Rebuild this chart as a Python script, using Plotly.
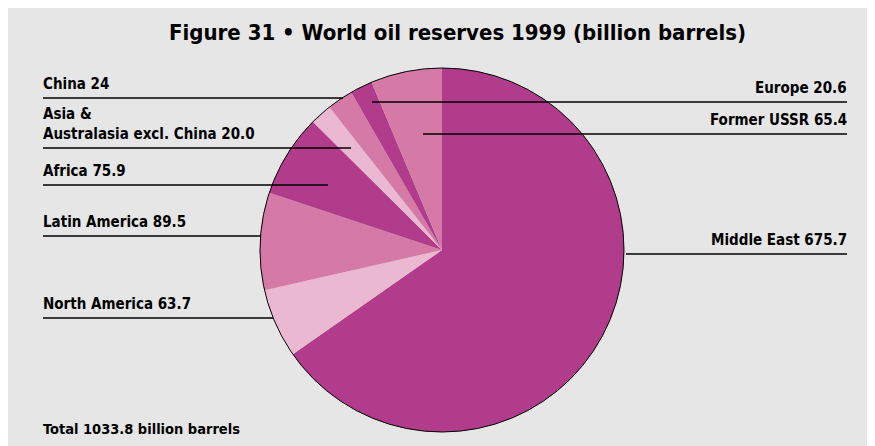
import plotly.graph_objects as go

# ---- data ----
regions = ["Middle East", "North America", "Latin America", "Africa",
           "Asia &<br>Australasia excl. China", "China", "Europe", "Former USSR"]
reserves = [675.7, 63.7, 89.5, 75.9, 20.0, 24, 20.6, 65.4]
value_text = ["675.7", "63.7", "89.5", "75.9", "20.0", "24", "20.6", "65.4"]
total_text = "Total 1033.8 billion barrels"
title_text = "Figure 31 • World oil reserves 1999 (billion barrels)"

# ---- styles ----
DARK, MED, LIGHT = "#B03C8B", "#D579A7", "#EAB8D0"
slice_colors = [DARK, LIGHT, MED, DARK, LIGHT, MED, DARK, MED]
OFF = 8  # page body margin
W, H = 875 - OFF, 446 - OFF
FONT = "DejaVu Sans Condensed, Liberation Sans, sans-serif"

def px(x):
    return (x - OFF) / W

def py(y):
    return 1 - (y - OFF) / H

cx, cy, r = 442, 250, 182
dom_x = [px(cx - r), px(cx + r)]
dom_y = [py(cy + r), py(cy - r)]

fig = go.Figure()
fig.add_trace(go.Pie(
    values=reserves, labels=regions, sort=False, direction="clockwise",
    rotation=0, marker=dict(colors=slice_colors, line=dict(width=0)),
    textinfo="none", hoverinfo="label+value", showlegend=False,
    domain=dict(x=dom_x, y=dom_y)))
# outline circle
fig.add_trace(go.Pie(
    values=[sum(reserves)], labels=["total"], sort=False,
    marker=dict(colors=["rgba(0,0,0,0)"], line=dict(color="black", width=1)),
    textinfo="none", hoverinfo="skip", showlegend=False,
    domain=dict(x=dom_x, y=dom_y)))

# label layout: (side, line y, line x start, line x end)
label_pos = {
    "Middle East": ("right", 254, 626, 847),
    "North America": ("left", 318, 43, 273),
    "Latin America": ("left", 236, 43, 261),
    "Africa": ("left", 185, 43, 328),
    "Asia &<br>Australasia excl. China": ("left", 148, 43, 351),
    "China": ("left", 98, 43, 343),
    "Europe": ("right", 102, 372, 847),
    "Former USSR": ("right", 134, 423, 847),
}

shapes = []
annotations = []
for name, val in zip(regions, value_text):
    side, ly, x0, x1 = label_pos[name]
    shapes.append(dict(type="line", xref="paper", yref="paper",
                       x0=px(x0), x1=px(x1), y0=py(ly), y1=py(ly),
                       line=dict(color="black", width=1.3)))
    annotations.append(dict(
        text=f"{name} {val}", xref="paper", yref="paper",
        x=px(x0) if side == "left" else px(x1), y=py(ly - 3),
        xanchor=side, yanchor="bottom", showarrow=False, align=side,
        xshift=-2 if side == "left" else 2,
        font=dict(family=FONT, size=15, color="black", weight="bold")))

annotations.append(dict(text=total_text, xref="paper", yref="paper",
                        x=px(43), y=py(429), xanchor="left", yanchor="middle",
                        xshift=-2, showarrow=False,
                        font=dict(family=FONT, size=14.5, color="black", weight="bold")))
annotations.append(dict(text=title_text, xref="paper", yref="paper",
                        x=px(458), y=py(33), xanchor="center", yanchor="middle",
                        showarrow=False,
                        font=dict(family=FONT, size=22, color="black", weight="bold")))

fig.update_layout(width=W, height=H, margin=dict(l=0, r=0, t=0, b=0),
                  paper_bgcolor="#E6E6E6", plot_bgcolor="#E6E6E6",
                  shapes=shapes, annotations=annotations)
fig.write_html("out.html")
